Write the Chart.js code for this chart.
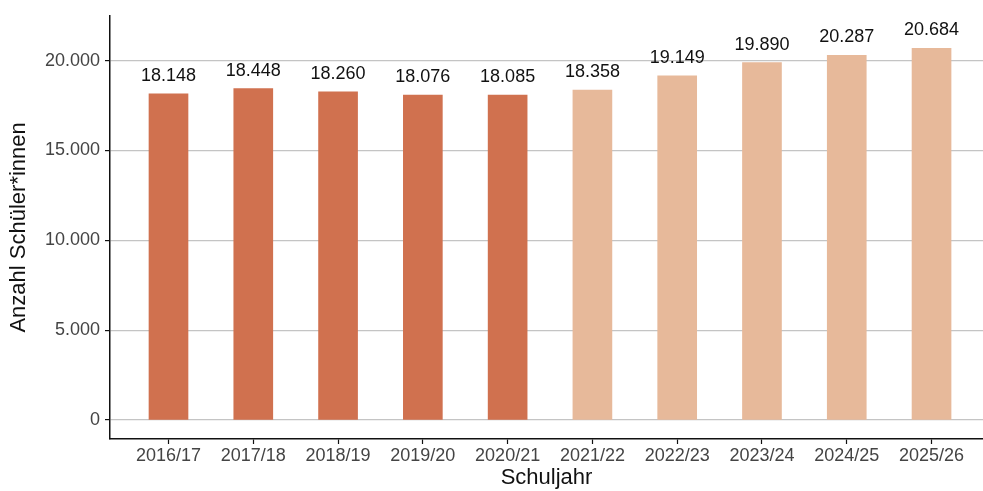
<!DOCTYPE html>
<html>
<head>
<meta charset="utf-8">
<script src="https://cdn.jsdelivr.net/npm/chart.js@4"></script>
<style>
  html, body { margin: 0; padding: 0; background: #fff; }
  #wrap { width: 983px; height: 491px; }
</style>
</head>
<body>
<div id="wrap"><canvas id="c"></canvas></div>
<script>
/* ── Data ── */
const years   = ['2016/17', '2017/18', '2018/19', '2019/20', '2020/21', '2021/22', '2022/23', '2023/24', '2024/25', '2025/26'];
const pupils  = [18148, 18448, 18260, 18076, 18085, 18358, 19149, 19890, 20287, 20684];
const isForecast = [false, false, false, false, false, true, true, true, true, true];
const yTicks  = [0, 5000, 10000, 15000, 20000];

/* ── Styles ── */
const COL_ACTUAL   = '#D0714F';
const COL_FORECAST = '#E7B99A';
const GRID_COLOR   = '#c4c4c4';
const FONT_FAMILY  = '"Liberation Sans", Arial, sans-serif';

const fmtDE = v => v.toLocaleString('de-DE');

/* value labels above the bars */
const barLabels = {
  id: 'barLabels',
  afterDatasetsDraw(chart) {
    const { ctx } = chart;
    const meta = chart.getDatasetMeta(0);
    ctx.save();
    ctx.font = '18px ' + FONT_FAMILY;
    ctx.fillStyle = '#111';
    ctx.textAlign = 'center';
    ctx.textBaseline = 'alphabetic';
    meta.data.forEach((bar, i) => {
      ctx.fillText(fmtDE(pupils[i]), bar.x, bar.y - 13);
    });
    ctx.restore();
  },
};

new Chart(document.getElementById('c'), {
  type: 'bar',
  data: {
    datasets: [{
      data: pupils.map((v, i) => ({ x: i, y: v })),
      backgroundColor: isForecast.map(f => f ? COL_FORECAST : COL_ACTUAL),
      barThickness: 39,
      borderWidth: 0,
    }],
  },
  options: {
    responsive: true,
    maintainAspectRatio: false,
    animation: false,
    layout: { padding: { top: 14, right: 0, bottom: 0, left: 0 } },
    plugins: {
      legend: { display: false },
      tooltip: { enabled: false },
    },
    scales: {
      x: {
        type: 'linear',
        offset: false,
        min: -0.69,
        max: 9.607,
        afterBuildTicks: s => { s.ticks = years.map((_, i) => ({ value: i })); },
        afterFit: s => { s.height = 52; },
        grid: { offset: false, drawOnChartArea: false, tickLength: 5, tickColor: '#111', tickWidth: 1.2 },
        border: { color: '#111', width: 1.5 },
        ticks: {
          color: '#444',
          font: { size: 18, family: FONT_FAMILY },
          padding: 1,
          maxRotation: 0,
          autoSkip: false,
          callback: v => years[v],
        },
        title: {
          display: true,
          text: 'Schuljahr',
          color: '#111',
          font: { size: 22, family: FONT_FAMILY },
          padding: { top: 0, bottom: 0 },
        },
      },
      y: {
        min: -1053,
        max: 22493,
        afterBuildTicks: s => { s.ticks = yTicks.map(v => ({ value: v })); },
        afterFit: s => { s.width = 110; },
        grid: { color: GRID_COLOR, lineWidth: 1.2, tickLength: 5, tickColor: '#111', tickWidth: 1.2 },
        border: { color: '#111', width: 1.5 },
        ticks: {
          color: '#444',
          font: { size: 18, family: FONT_FAMILY },
          padding: 5,
          callback: v => fmtDE(v),
        },
        title: {
          display: true,
          text: 'Anzahl Schüler*innen',
          color: '#111',
          font: { size: 22, family: FONT_FAMILY },
          padding: { top: 6, bottom: 0 },
        },
      },
    },
  },
  plugins: [barLabels],
});
</script>
</body>
</html>
